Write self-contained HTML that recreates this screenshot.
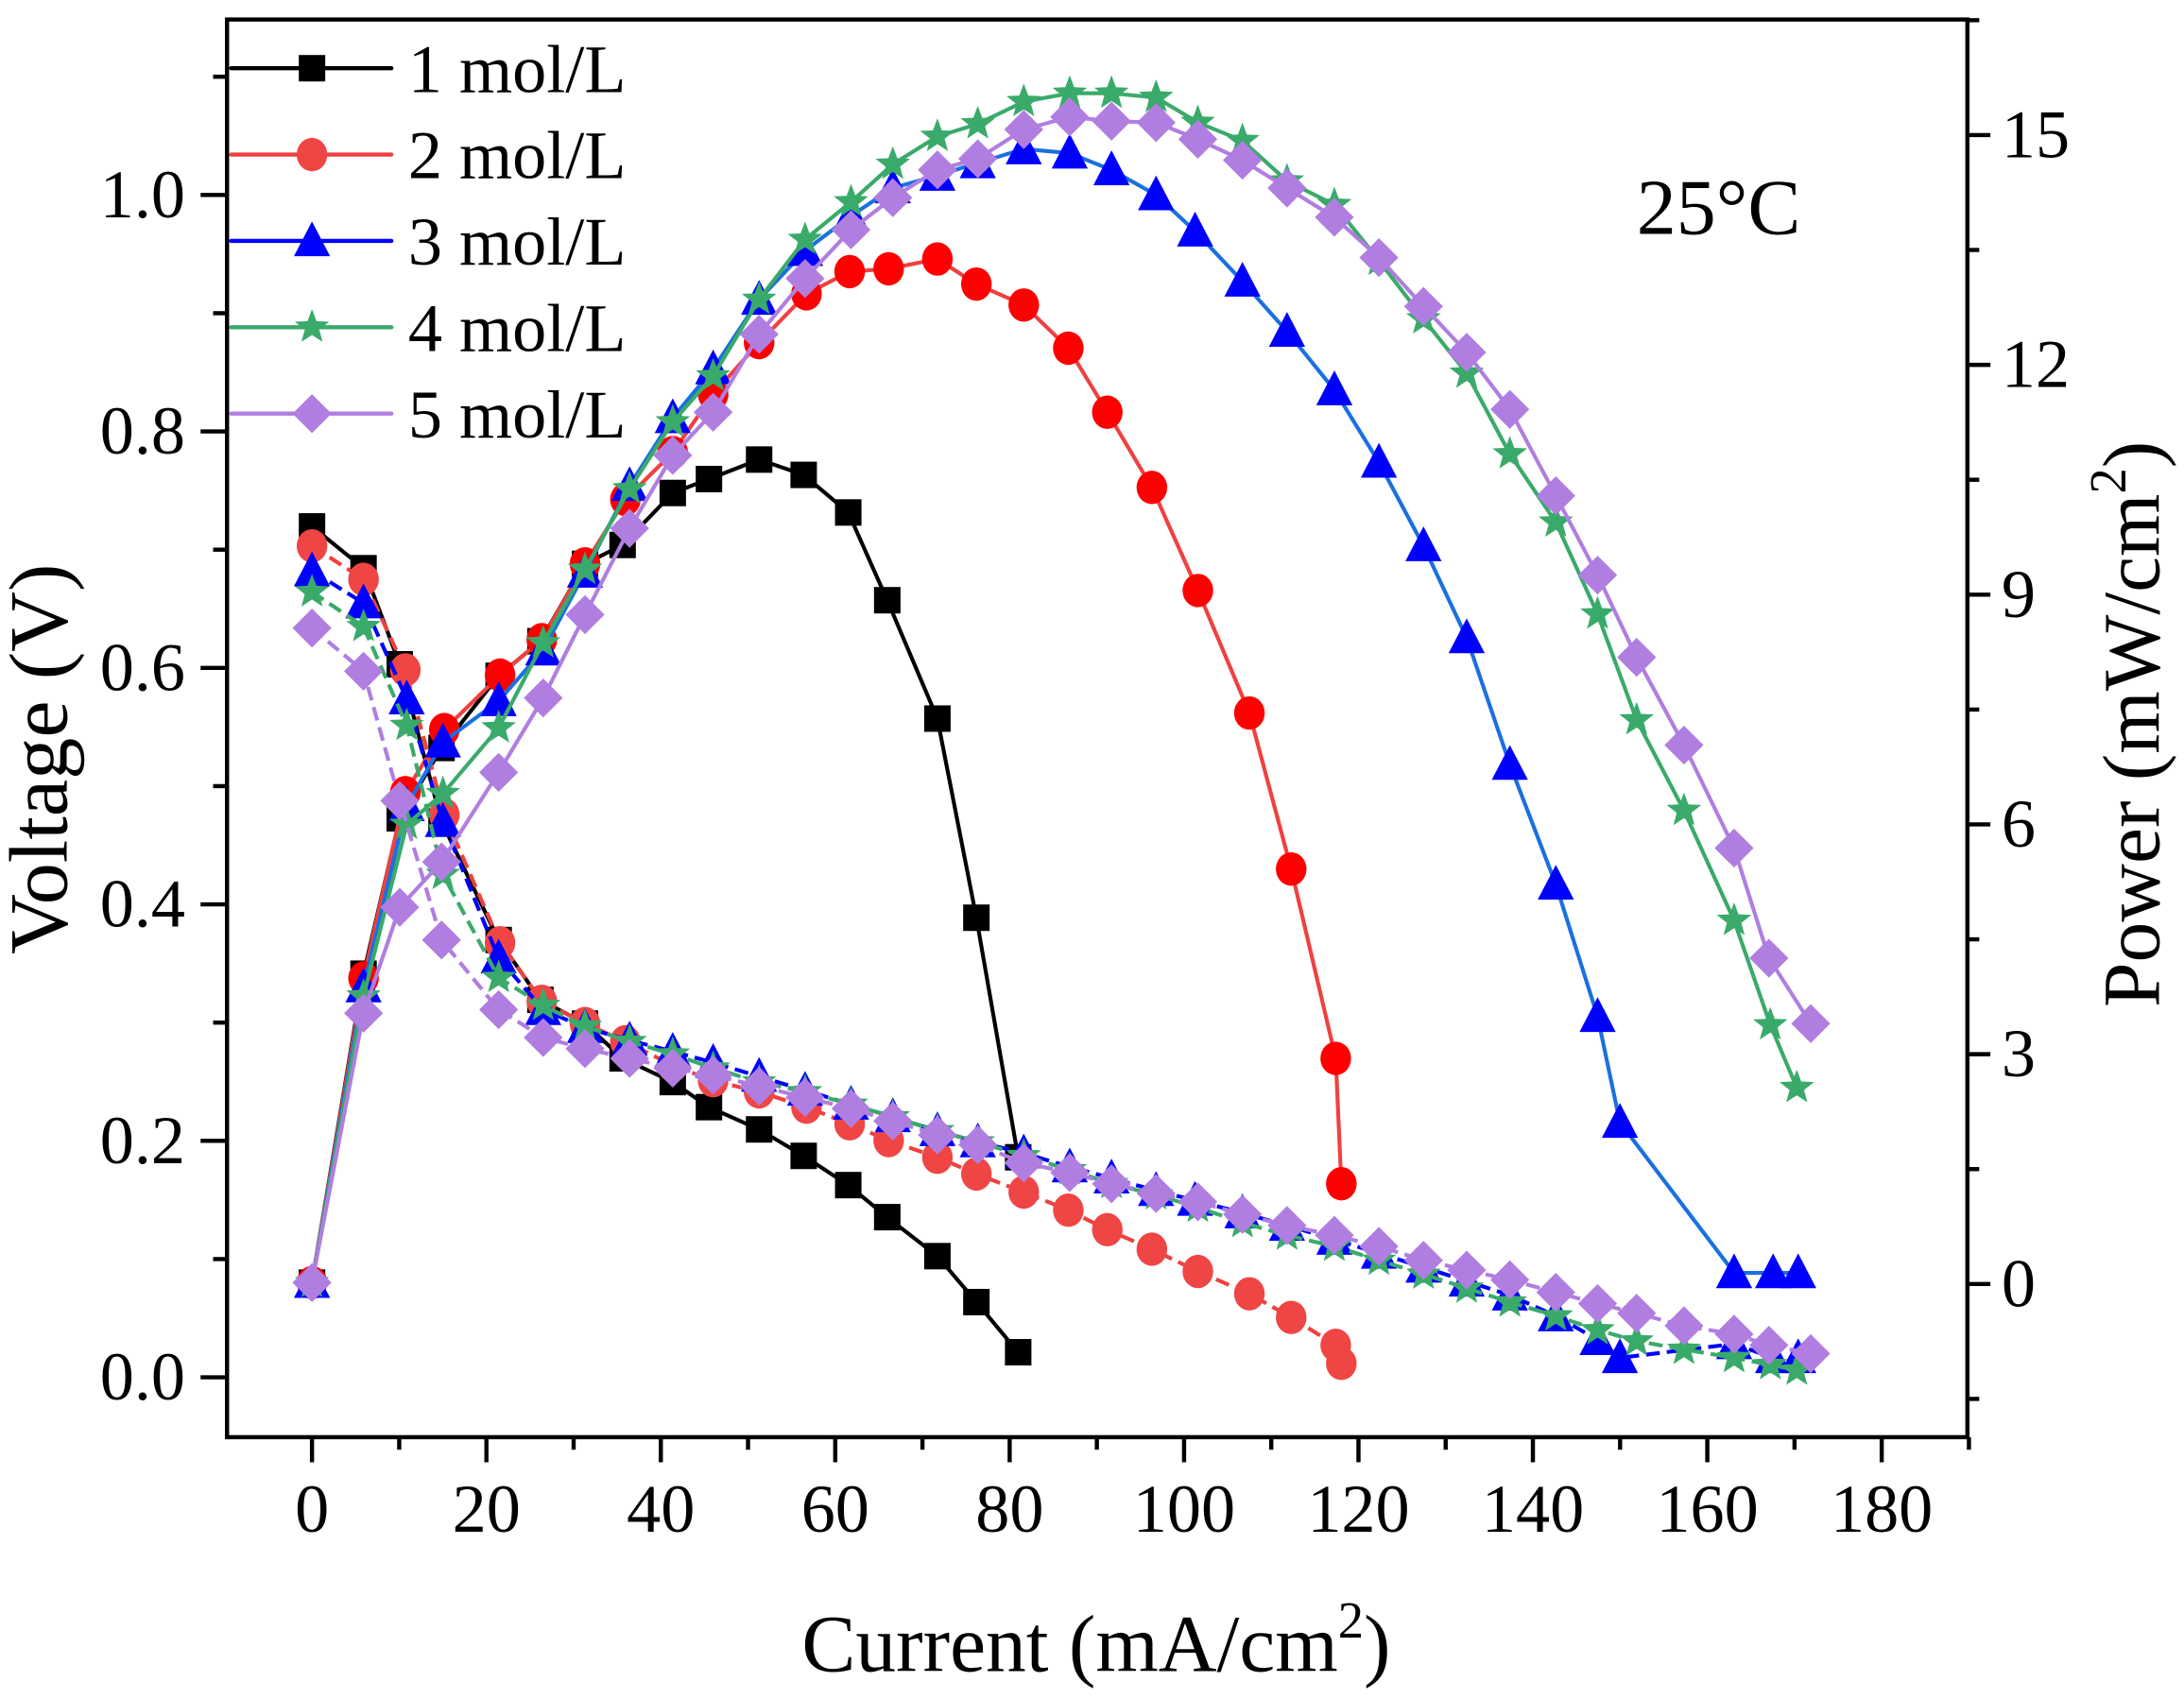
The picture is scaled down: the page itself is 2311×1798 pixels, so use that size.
<!DOCTYPE html>
<html><head><meta charset="utf-8"><style>
html,body{margin:0;padding:0;background:#fff;}
svg{display:block;}
text{font-family:"Liberation Serif",serif;fill:#000;}
</style></head><body>
<svg id="s" width="2311" height="1798" viewBox="0 0 1568 1220" preserveAspectRatio="none" xmlns="http://www.w3.org/2000/svg">
<rect x="0" y="0" width="1568" height="1220" fill="#fff"/>
<g id="data"></g>
<rect x="163" y="14" width="1249.5" height="1018" fill="none" stroke="#000" stroke-width="3"/>
<g id="ticks" stroke="#000" stroke-width="3"></g>
<g id="labels" font-size="49"></g>
<text x="1175" y="168" font-size="57">25°C</text>
<text x="787" y="1200" font-size="58" text-anchor="middle">Current (mA/cm<tspan font-size="37" dy="-24">2</tspan><tspan dy="24">)</tspan></text>
<text transform="translate(48,545) rotate(-90)" font-size="60" text-anchor="middle">Voltage (V)</text>
<text transform="translate(1550,520) rotate(-90)" font-size="58" text-anchor="middle">Power (mW/cm<tspan font-size="37" dy="-24">2</tspan><tspan dy="24">)</tspan></text>
<g id="legend"></g>
</svg>
<script>
var NS="http://www.w3.org/2000/svg";
function el(p,t,a){var e=document.createElementNS(NS,t);for(var k in a)e.setAttribute(k,a[k]);p.appendChild(e);return e;}
var T=document.getElementById('ticks'),L=document.getElementById('labels');
for(var v=-10;v<=190;v+=10){var x=224+v*6.261;if(x<162||x>1414)continue;var maj=(v%20==0);
el(T,'line',{x1:x,y1:1032,x2:x,y2:1032+(maj?18:9)});
if(maj&&v>=0){var t=el(L,'text',{x:x,y:1100,'text-anchor':'middle'});t.textContent=v;}}
for(var i=-1;i<=11;i++){var y=989-i*84.9;if(y<14||y>1032)continue;var maj=(i%2==0);
el(T,'line',{x1:163,y1:y,x2:163-(maj?19:10),y2:y});
if(maj&&i>=0){var t=el(L,'text',{x:133,y:y+16,'text-anchor':'end'});t.textContent=(i/10).toFixed(1);}}
for(var p=-1.5;p<=16.5;p+=1.5){var y=922-p*55;if(y<14||y>1032)continue;var maj=(Math.abs(p%3)<0.01);
el(T,'line',{x1:1412,y1:y,x2:1412+(maj?17:9),y2:y});
if(maj){var t=el(L,'text',{x:1437,y:y+16});t.textContent=p;}}
var D=document.getElementById('data');
function marker(g,type,x,y,c,s){s=s||1;
 if(type=='sq')el(g,'rect',{x:x-9.5*s,y:y-9.5*s,width:19*s,height:19*s,fill:c});
 else if(type=='ci')el(g,'ellipse',{cx:x,cy:y,rx:11*s,ry:12*s,fill:c});
 else if(type=='tr')el(g,'polygon',{points:(x)+','+(y-14*s)+' '+(x-13*s)+','+(y+11*s)+' '+(x+13*s)+','+(y+11*s),fill:c});
 else if(type=='st'){var pts=[];for(var k=0;k<10;k++){var r=(k%2==0)?13*s:5.5*s;var a=-Math.PI/2+k*Math.PI/5;pts.push((x+r*Math.cos(a)).toFixed(1)+','+(y+r*Math.sin(a)).toFixed(1));}el(g,'polygon',{points:pts.join(' '),fill:c});}
 else if(type=='di')el(g,'polygon',{points:x+','+(y-14*s)+' '+(x+14*s)+','+y+' '+x+','+(y+14*s)+' '+(x-14*s)+','+y,fill:c});
}
function series(pts,type,lc,mc,dash){var g=el(D,'g',{});
 var a={points:pts.map(function(p){return p[0].toFixed(1)+','+p[1].toFixed(1)}).join(' '),fill:'none',stroke:lc,'stroke-width':2.8,'stroke-linejoin':'round'};
 if(dash)a['stroke-dasharray']=dash;el(g,'polyline',a);
 pts.forEach(function(p){marker(g,type,p[0],p[1],mc);});}
var S=[
 {t:'sq',lc:'#000',mc:'#000',
  v:[[224,378],[261,408],[287,477],[317,590],[358,675],[388,718],[420,735],[447,760],[483,777],[509,795],[545,811],[577,830],[609,851],[637,874],[673,902],[701,935],[731,971]],
  p:[[224,921],[261,697],[287,553],[317,527],[358,597],[388,567],[420,407],[447,395],[483,354],[509,344],[545,330],[577,341],[609,368],[637,431],[673,516],[701,659],[731,831]]},
 {t:'ci',lc:'#f04040',mc:'#f04545',pm:'#ff0000',
  v:[[224,392],[261,416],[291,481],[319,585],[359,677],[389,719],[420,735],[449,748],[483,765],[512,776],[545,784],[579,795],[610,807],[638,819],[673,831],[701,843],[735,856],[767,869],[795,883],[827,897],[860,913],[897,929],[927,946],[959,966],[963,979]],
  p:[[224,921],[261,697],[291,571],[319,558],[359,489],[389,458],[420,407],[449,369],[483,325],[512,283],[545,246],[579,211],[610,195],[638,193],[673,186],[701,204],[735,219],[767,250],[795,296],[827,350],[860,424],[897,512],[927,624],[959,760],[963,850]]},
 {t:'tr',lc:'#0000ff',mc:'#0000ff',plc:'#1a70e0',
  v:[[224,410],[261,433],[292,502],[318,590],[358,688],[390,725],[420,738],[452,747],[483,755],[512,763],[545,773],[578,783],[611,793],[641,802],[673,812],[702,820],[735,828],[768,838],[798,846],[830,855],[858,862],[892,871],[924,880],[958,890],[990,900],[1022,910],[1053,920],[1084,930],[1117,945],[1147,962],[1163,975],[1245,965],[1273,975],[1291,975]],
  p:[[224,921],[261,708],[292,577],[318,548],[358,568],[390,458],[420,407],[452,350],[483,300],[512,265],[545,215],[578,180],[611,155],[641,135],[673,126],[702,117],[735,107],[768,110],[798,122],[830,140],[858,166],[892,202],[924,238],[958,280],[990,332],[1022,392],[1053,458],[1084,549],[1117,635],[1147,730],[1163,806],[1245,914],[1273,914],[1291,914]]},
 {t:'st',lc:'#3aaa6a',mc:'#3aaa6a',
  v:[[224,425],[261,450],[292,521],[318,628],[358,702],[390,722],[420,737],[452,748],[483,757],[512,767],[545,777],[578,784],[611,793],[641,802],[673,812],[702,820],[735,830],[768,840],[798,850],[830,858],[860,867],[892,878],[924,887],[958,895],[990,905],[1022,915],[1053,925],[1084,935],[1117,945],[1147,955],[1175,963],[1209,969],[1245,975],[1271,980],[1290,984]],
  p:[[224,921],[261,710],[292,590],[318,570],[358,608],[390,482],[420,410],[452,355],[483,303],[512,270],[545,215],[578,172],[611,145],[641,118],[673,98],[702,89],[735,73],[768,67],[798,67],[830,70],[860,88],[892,101],[924,130],[958,147],[990,187],[1022,229],[1053,268],[1084,326],[1117,375],[1147,441],[1175,517],[1209,582],[1245,661],[1271,736],[1290,781]]},
 {t:'di',lc:'#b07ee0',mc:'#b07ee0',
  v:[[224,451],[261,482],[287,575],[317,675],[358,725],[390,745],[420,753],[452,760],[483,767],[512,772],[545,780],[578,788],[611,796],[641,805],[673,815],[702,822],[735,835],[768,842],[798,850],[830,857],[860,863],[892,872],[924,880],[958,887],[990,895],[1022,905],[1053,912],[1084,919],[1117,928],[1147,936],[1175,943],[1209,952],[1245,958],[1270,966],[1300,972]],
  p:[[224,921],[261,725],[287,641],[317,615],[358,560],[390,504],[420,440],[452,385],[483,327],[512,296],[545,240],[578,200],[611,165],[641,142],[673,122],[702,114],[735,93],[768,84],[798,87],[830,88],[860,100],[892,115],[924,135],[958,156],[990,185],[1022,220],[1053,253],[1084,294],[1117,356],[1147,413],[1175,472],[1209,535],[1245,609],[1270,688],[1300,735]]}
];
// recompute early power points from P = I*V
S.forEach(function(s){
 for(var i=1;i<8;i++){var x=s.v[i][0],I=(x-224)/6.261,V=(990-s.v[i][1])/849;s.p[i]=[x,922-I*V*55];}
 s.p[0]=[224,921];
});
S.forEach(function(s,i){
 series(s.v,s.t,s.lc,s.mc,i==0?null:'10 5');
 series(s.p,s.t,s.plc||s.lc,s.pm||s.mc,null);
});
var G=document.getElementById('legend');
var names=['1 mol/L','2 mol/L','3 mol/L','4 mol/L','5 mol/L'];
S.forEach(function(s,i){var y=49+i*62;
 el(G,'line',{x1:166,y1:y,x2:281,y2:y,stroke:s.lc,'stroke-width':3,'stroke-linecap':'round'});
 marker(G,s.t,224,y,i==1?'#f04545':s.mc);
 var t=el(G,'text',{x:293,y:y+17,'font-size':49});t.textContent=names[i];});
</script>
</body></html>
